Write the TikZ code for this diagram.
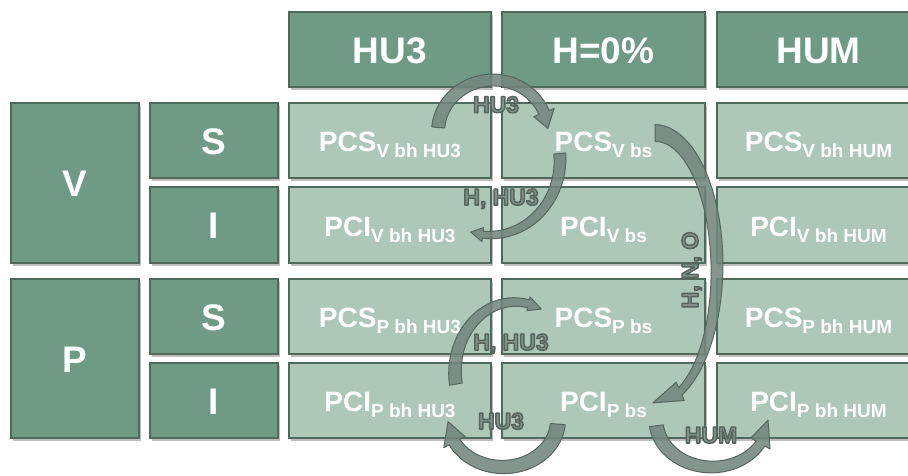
\documentclass[tikz,border=0pt]{standalone}
\usepackage{fontspec}
\setmainfont{Liberation Sans}
\usetikzlibrary{shadows,calc}
\definecolor{headfill}{HTML}{6E9A86}
\definecolor{cellfill}{HTML}{ADC7B9}
\definecolor{border}{HTML}{4F6A5D}
\definecolor{arrowfill}{HTML}{72877D}
\definecolor{arrowdraw}{HTML}{56675E}
\definecolor{labfill}{HTML}{82958C}
\tikzset{
  box/.style={draw=border, line width=1.2pt, inner sep=0pt,
    drop shadow={shadow xshift=1.5pt, shadow yshift=-2.5pt, fill=black, opacity=0.25}},
  headbox/.style={box, fill=headfill},
  cellbox/.style={box, fill=cellfill},
  bigtxt/.style={text=white, font=\fontsize{37}{40}\selectfont\bfseries, anchor=base, inner sep=0pt},
  celltxt/.style={text=white, font=\bfseries, anchor=base, inner sep=0pt},
  labtxt/.style={text=labfill, font=\fontsize{23}{26}\selectfont\bfseries, anchor=base, inner sep=0pt},
  arrowshape/.style={fill=arrowfill, draw=arrowdraw, line width=1pt, fill opacity=0.88, line join=round},
}
\newcommand{\mybox}[6]{\node[#2, minimum width=#5pt, minimum height=#6pt] (#1) at (#3,#4) {};}
\newcommand{\ctext}[2]{{\fontsize{28}{30}\selectfont #1}\raisebox{-6pt}{\fontsize{19}{21}\selectfont #2}}
% outlined label text: fill in current colour, stroke in dark grey-green
\newcommand{\lab}[1]{\special{pdf:literal direct 2 Tr 1.5 w 1 j 0.333 0.392 0.361 RG}#1\special{pdf:literal direct 0 Tr}}
% #1 centre, #2 rx, #3 ry, #4 tail angle, #5 shaft end angle, #6 tip angle, #7 tail half width, #8 end half width, #9 head half width
\newcommand{\carrow}[9]{%
\begin{scope}[shift={#1}]
\filldraw[arrowshape]
 plot[variable=\s, domain=0:1, samples=40] ({(#2+(#7)+((#8)-(#7))*\s)*cos((#4)+((#5)-(#4))*\s)},{(#3+(#7)+((#8)-(#7))*\s)*sin((#4)+((#5)-(#4))*\s)})
 -- ({(#2+#9)*cos(#5)},{(#3+#9)*sin(#5)})
 -- ({#2*cos(#6)},{#3*sin(#6)})
 -- ({(#2-#9)*cos(#5)},{(#3-#9)*sin(#5)})
 -- plot[variable=\s, domain=0:1, samples=40] ({(#2-(#8)-((#7)-(#8))*\s)*cos((#5)+((#4)-(#5))*\s)},{(#3-(#8)-((#7)-(#8))*\s)*sin((#5)+((#4)-(#5))*\s)})
 -- cycle;
\end{scope}}
\begin{document}
\begin{tikzpicture}[x=1pt, y=-1pt]
\useasboundingbox (0,0) rectangle (908,475);
\fill[white] (0,0) rectangle (908,475);
% headers
\mybox{hHU}{headbox}{390}{49.5}{202}{75}
\mybox{hHZ}{headbox}{603.5}{49.5}{203}{75}
\mybox{hHM}{headbox}{818.5}{49.5}{203}{75}
% left
\mybox{bV}{headbox}{75}{183}{128}{160}
\mybox{bP}{headbox}{75}{358.5}{128}{159}
\mybox{sV}{headbox}{214}{140.5}{128}{75}
\mybox{iV}{headbox}{214}{225}{128}{76}
\mybox{sP}{headbox}{214}{316.5}{128}{75}
\mybox{iP}{headbox}{214}{400.5}{128}{75}
% cells
\mybox{c11}{cellbox}{390}{140.5}{202}{75}
\mybox{c12}{cellbox}{603.5}{140.5}{203}{75}
\mybox{c13}{cellbox}{818.5}{140.5}{203}{75}
\mybox{c21}{cellbox}{390}{225}{202}{76}
\mybox{c22}{cellbox}{603.5}{225}{203}{76}
\mybox{c23}{cellbox}{818.5}{225}{203}{76}
\mybox{c31}{cellbox}{390}{316.5}{202}{75}
\mybox{c32}{cellbox}{603.5}{316.5}{203}{75}
\mybox{c33}{cellbox}{818.5}{316.5}{203}{75}
\mybox{c41}{cellbox}{390}{400.5}{202}{75}
\mybox{c42}{cellbox}{603.5}{400.5}{203}{75}
\mybox{c43}{cellbox}{818.5}{400.5}{203}{75}
% header texts
\node[bigtxt] (thHU) at ([yshift=-14pt]hHU.center) {HU3};
\node[bigtxt] (thHZ) at ([yshift=-14pt]hHZ.center) {H=0\%};
\node[bigtxt] (thHM) at ([yshift=-14pt]hHM.center) {HUM};
\node[bigtxt] (tbV) at ([yshift=-13.5pt]bV.center) {V};
\node[bigtxt] (tbP) at ([yshift=-13.5pt]bP.center) {P};
\node[bigtxt] (tsV) at ([yshift=-13.5pt]sV.center) {S};
\node[bigtxt] (tiV) at ([yshift=-13.5pt]iV.center) {I};
\node[bigtxt] (tsP) at ([yshift=-13.5pt]sP.center) {S};
\node[bigtxt] (tiP) at ([yshift=-13.5pt]iP.center) {I};
% cell texts
\node[celltxt] (t11) at ([yshift=-11pt]c11.center) {\ctext{PCS}{V bh HU3}};
\node[celltxt] (t12) at ([yshift=-11pt]c12.center) {\ctext{PCS}{V bs}};
\node[celltxt] (t13) at ([yshift=-11pt]c13.center) {\ctext{PCS}{V bh HUM}};
\node[celltxt] (t21) at ([yshift=-11pt]c21.center) {\ctext{PCI}{V bh HU3}};
\node[celltxt] (t22) at ([yshift=-11pt]c22.center) {\ctext{PCI}{V bs}};
\node[celltxt] (t23) at ([yshift=-11pt]c23.center) {\ctext{PCI}{V bh HUM}};
\node[celltxt] (t31) at ([yshift=-11pt]c31.center) {\ctext{PCS}{P bh HU3}};
\node[celltxt] (t32) at ([yshift=-11pt]c32.center) {\ctext{PCS}{P bs}};
\node[celltxt] (t33) at ([yshift=-11pt]c33.center) {\ctext{PCS}{P bh HUM}};
\node[celltxt] (t41) at ([yshift=-11pt]c41.center) {\ctext{PCI}{P bh HU3}};
\node[celltxt] (t42) at ([yshift=-11pt]c42.center) {\ctext{PCI}{P bs}};
\node[celltxt] (t43) at ([yshift=-11pt]c43.center) {\ctext{PCI}{P bh HUM}};
% arrows
\carrow{(493,132)}{55}{52}{185}{338}{356}{6.5}{5.5}{11}
\carrow{(490,160)}{70}{75}{-5}{96}{106}{6}{3.5}{7}
\carrow{(655,268)}{62}{135}{-90}{66}{92}{8.5}{4}{10}
\carrow{(515,372)}{60}{70}{170}{283}{296}{6.5}{4}{7}
\carrow{(503,420)}{55}{47}{5}{152}{178}{7.5}{6}{12}
\carrow{(712,420)}{56}{47}{173}{30}{0}{7}{5}{11}
% arrow labels
\node[labtxt] (l1) at (496,112.5) {\lab{HU3}};
\node[labtxt] (l2) at (501,205) {\lab{H, HU3}};
\node[labtxt, rotate=90] (l3) at (698,270) {\lab{H, N, O}};
\node[labtxt] (l4) at (511,350) {\lab{H, HU3}};
\node[labtxt] (l5) at (501,429) {\lab{HU3}};
\node[labtxt] (l6) at (711,443) {\lab{HUM}};
\end{tikzpicture}
\end{document}
